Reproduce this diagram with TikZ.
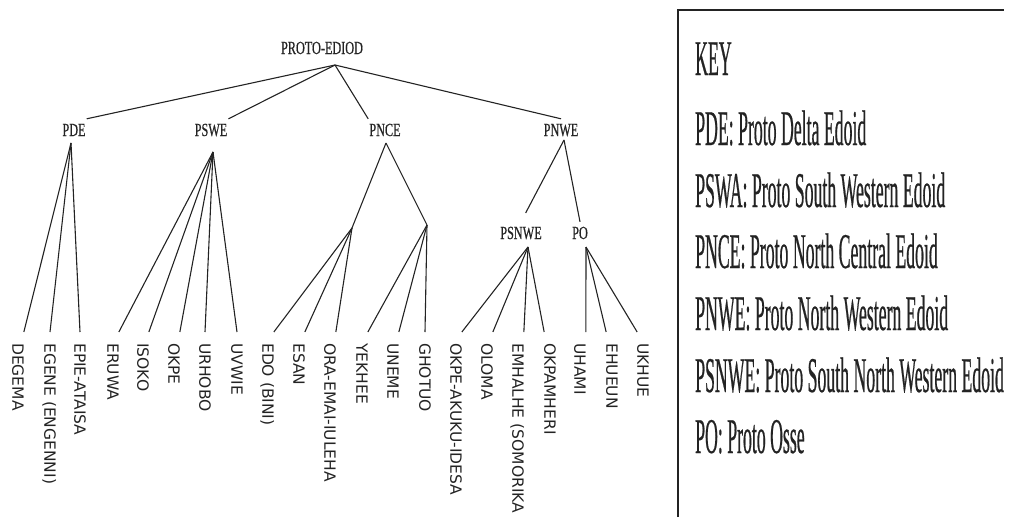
\documentclass[tikz,border=0pt]{standalone}
\usepackage{fontspec}
\usepackage{tikz}
\usetikzlibrary{positioning, calc}
\newfontfamily\treefont[FakeStretch=0.66, FakeBold=0.6]{Liberation Serif}
\newfontfamily\keyfont[FakeStretch=0.355, FakeBold=0.4]{Liberation Serif}
\newfontfamily\leaffont{DejaVu Sans}
\definecolor{inkgray}{RGB}{35, 35, 35}

\begin{document}
\begin{tikzpicture}[
  x=1pt, y=-1pt,
  lbl/.style={font=\treefont\fontsize{18.5}{20}\selectfont, text=inkgray, text height=12pt, text depth=0pt, inner xsep=1pt, inner ysep=5pt},
  leaf/.style={font=\leaffont\fontsize{15.5}{17}\selectfont, text=inkgray, rotate=-90, anchor=west, inner xsep=11pt, inner ysep=0pt, text height=11.3pt, text depth=0pt},
  branch/.style={draw=inkgray, line width=1.1pt},
  keytxt/.style={font=\keyfont\fontsize{50}{52}\selectfont, text=inkgray, anchor=base west, inner sep=0pt}
]
  \useasboundingbox (0,0) rectangle (1009,517);

  \node[lbl] (proto) at (322,48) {PROTO-EDIOD};
  \node[lbl] (pde) at (74,130) {PDE};
  \node[lbl] (pswe) at (211,130) {PSWE};
  \node[lbl] (pnce) at (385,130) {PNCE};
  \node[lbl] (pnwe) at (561,130) {PNWE};
  \node[lbl] (psnwe) at (521,233) {PSNWE};
  \node[lbl] (po) at (580,233) {PO};

  \coordinate (proto-j) at (335,65);
  \coordinate (pde-j) at (71,143);
  \coordinate (pswe-j) at (213,152);
  \coordinate (pnce-j) at (386,143);
  \coordinate (pnwe-j) at (564,140);
  \coordinate (pnce-l) at (352,228);
  \coordinate (pnce-r) at (427,225);
  \coordinate (psnwe-j) at (528,247);
  \coordinate (po-j) at (586,247);

  \node[leaf] (degema) at (18,332) {DEGEMA};
  \node[leaf] (egene) at (50,332) {EGENE (ENGENNI)};
  \node[leaf] (epie) at (80,332) {EPIE-ATAISA};
  \node[leaf] (eruwa) at (113,332) {ERUWA};
  \node[leaf] (isoko) at (143,332) {ISOKO};
  \node[leaf] (okpe) at (174,332) {OKPE};
  \node[leaf] (urhobo) at (205,332) {URHOBO};
  \node[leaf] (uvwie) at (237,332) {UVWIE};
  \node[leaf] (edo) at (268,332) {EDO (BINI)};
  \node[leaf] (esan) at (299,332) {ESAN};
  \node[leaf] (ora) at (330,332) {ORA-EMAI-IULEHA};
  \node[leaf] (yekhee) at (362,332) {YEKHEE};
  \node[leaf] (uneme) at (393,332) {UNEME};
  \node[leaf] (ghotuo) at (425,332) {GHOTUO};
  \node[leaf] (okpeak) at (456,332) {OKPE-AKUKU-IDESA};
  \node[leaf] (oloma) at (487,332) {OLOMA};
  \node[leaf] (emhalhe) at (518,332) {EMHALHE (SOMORIKA};
  \node[leaf] (okpamheri) at (550,332) {OKPAMHERI};
  \node[leaf] (uhami) at (580,332) {UHAMI};
  \node[leaf] (ehueun) at (612,332) {EHUEUN};
  \node[leaf] (ukhue) at (643,332) {UKHUE};

  \draw[branch] (proto-j) -- (pde.north east);
  \draw[branch] (proto-j) -- (pswe.north east);
  \draw[branch] (proto-j) -- (pnce.north west);
  \draw[branch] (proto-j) -- (pnwe.north);

  \draw[branch] (pde-j) -- (degema.north west);
  \draw[branch] (pde-j) -- (egene.west);
  \draw[branch] (pde-j) -- (epie.west);

  \draw[branch] (pswe-j) -- (eruwa.north west);
  \draw[branch] (pswe-j) -- (isoko.north west);
  \draw[branch] (pswe-j) -- (okpe.north west);
  \draw[branch] (pswe-j) -- (urhobo.west);
  \draw[branch] (pswe-j) -- (uvwie.west);

  \draw[branch] (pnce-j) -- (pnce-l);
  \draw[branch] (pnce-j) -- (pnce-r);
  \draw[branch] (pnce-l) -- (edo.north west);
  \draw[branch] (pnce-l) -- (esan.north west);
  \draw[branch] (pnce-l) -- (ora.north west);
  \draw[branch] (pnce-r) -- (yekhee.north west);
  \draw[branch] (pnce-r) -- (uneme.north west);
  \draw[branch] (pnce-r) -- (ghotuo.west);

  \draw[branch, shorten >=10pt] (pnwe-j) -- (psnwe.north);
  \draw[branch] (pnwe-j) -- (po.north);
  \draw[branch] (psnwe-j) -- (okpeak.north west);
  \draw[branch] (psnwe-j) -- (oloma.north west);
  \draw[branch] (psnwe-j) -- (emhalhe.north west);
  \draw[branch] (psnwe-j) -- (okpamheri.south west);
  \draw[branch] (po-j) -- (uhami.north west);
  \draw[branch] (po-j) -- (ehueun.south west);
  \draw[branch] (po-j) -- (ukhue.south west);

  \draw[branch, line width=1.4pt] (678,517) -- (678,10) -- (1004,10);
  \node[keytxt] (key-title) at (695,75) {KEY};
  \node[keytxt] (key-pde) at (695,145) {PDE: Proto Delta Edoid};
  \node[keytxt] (key-pswa) at (695,207) {PSWA: Proto South Western Edoid};
  \node[keytxt] (key-pnce) at (695,268) {PNCE: Proto North Central Edoid};
  \node[keytxt] (key-pnwe) at (695,330) {PNWE: Proto North Western Edoid};
  \node[keytxt] (key-psnwe) at (695,392) {PSNWE: Proto South North Western Edoid};
  \node[keytxt] (key-po) at (695,453) {PO: Proto Osse};
\end{tikzpicture}
\end{document}
